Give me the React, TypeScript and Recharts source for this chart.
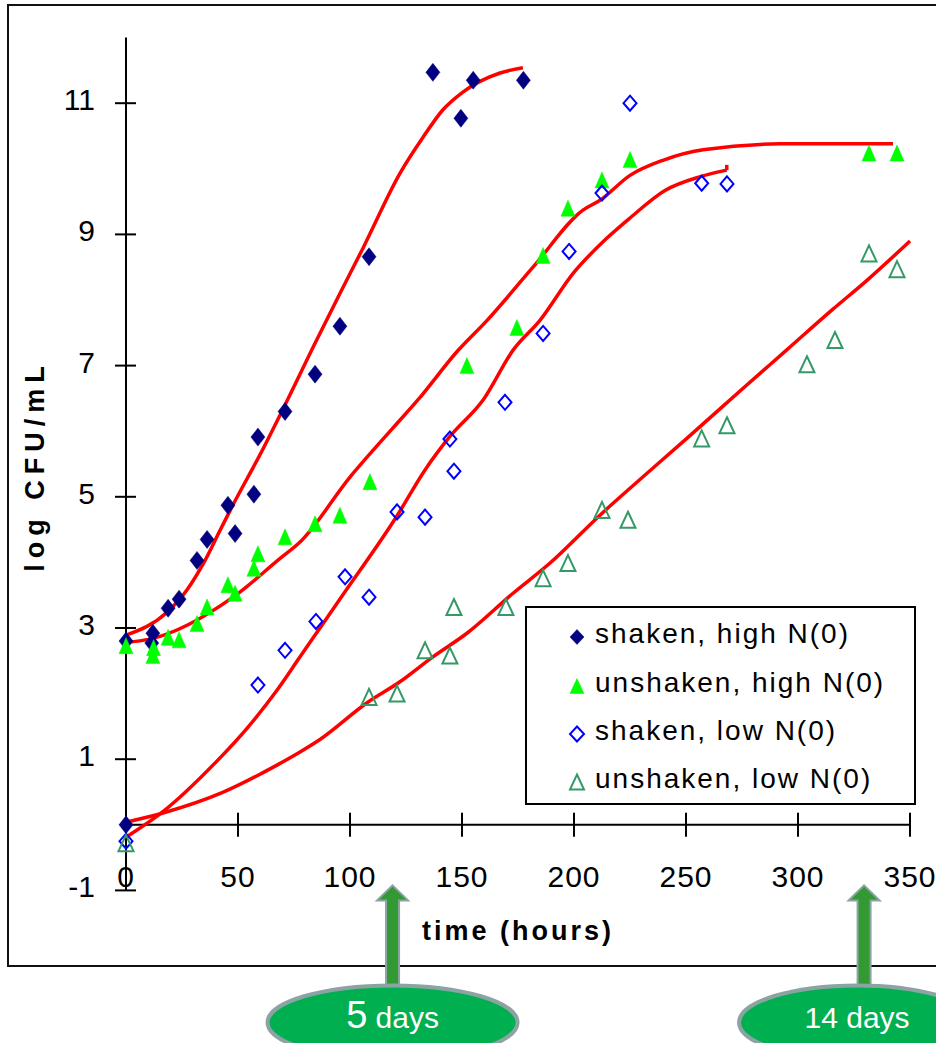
import React from 'react';
import {
  ComposedChart,
  Line,
  Scatter,
  XAxis,
  YAxis,
  ReferenceLine,
  ReferenceDot,
  Legend,
} from 'recharts';

// ---------------- data ----------------
const xTicks = [0, 50, 100, 150, 200, 250, 300, 350];
const yTicks = [-1, 1, 3, 5, 7, 9, 11];

const seriesNames = [
  'shaken, high N(0)',
  'unshaken, high N(0)',
  'shaken, low N(0)',
  'unshaken, low N(0)',
];

const shakenHigh = [
  { x: 0, y: 2.8 }, { x: 0, y: 0.0 }, { x: 12, y: 2.92 }, { x: 11.5, y: 2.77 },
  { x: 18.8, y: 3.3 }, { x: 23.7, y: 3.44 }, { x: 31.7, y: 4.03 }, { x: 36.2, y: 4.35 },
  { x: 45.5, y: 4.87 }, { x: 48.7, y: 4.44 }, { x: 57.1, y: 5.04 }, { x: 58.9, y: 5.91 },
  { x: 71, y: 6.3 }, { x: 84.4, y: 6.87 }, { x: 95.5, y: 7.6 }, { x: 108.5, y: 8.66 },
  { x: 137, y: 11.47 }, { x: 149.5, y: 10.77 }, { x: 155, y: 11.35 }, { x: 177.4, y: 11.35 },
];

const unshakenHigh = [
  { x: 0, y: 2.73 }, { x: 12, y: 2.58 }, { x: 12.3, y: 2.7 }, { x: 18.8, y: 2.86 },
  { x: 23.7, y: 2.82 }, { x: 31.7, y: 3.07 }, { x: 36.2, y: 3.32 }, { x: 45.5, y: 3.66 },
  { x: 48.7, y: 3.53 }, { x: 57.1, y: 3.91 }, { x: 58.9, y: 4.13 }, { x: 71, y: 4.39 },
  { x: 84.4, y: 4.59 }, { x: 95.5, y: 4.72 }, { x: 108.9, y: 5.23 }, { x: 152.2, y: 7.0 },
  { x: 174.5, y: 7.58 }, { x: 186.2, y: 8.68 }, { x: 197.3, y: 9.4 }, { x: 212.5, y: 9.83 },
  { x: 225, y: 10.14 }, { x: 331.7, y: 10.24 }, { x: 344.2, y: 10.24 },
];

const shakenLow = [
  { x: 0, y: -0.25 }, { x: 58.9, y: 2.13 }, { x: 71, y: 2.66 }, { x: 84.8, y: 3.1 },
  { x: 97.8, y: 3.78 }, { x: 108.5, y: 3.47 }, { x: 121, y: 4.77 }, { x: 133.5, y: 4.69 },
  { x: 144.6, y: 5.88 }, { x: 146.4, y: 5.39 }, { x: 169.2, y: 6.44 }, { x: 186.2, y: 7.49 },
  { x: 197.8, y: 8.74 }, { x: 212.5, y: 9.63 }, { x: 225, y: 11.0 }, { x: 257, y: 9.78 },
  { x: 268.3, y: 9.77 },
];

const unshakenLow = [
  { x: 0, y: -0.28 }, { x: 108.5, y: 1.95 }, { x: 121, y: 2.0 }, { x: 133.5, y: 2.66 },
  { x: 144.6, y: 2.58 }, { x: 146.4, y: 3.32 }, { x: 169.6, y: 3.32 }, { x: 186.2, y: 3.76 },
  { x: 197.3, y: 3.99 }, { x: 212.5, y: 4.8 }, { x: 224.1, y: 4.65 }, { x: 257, y: 5.89 },
  { x: 268.3, y: 6.09 }, { x: 304, y: 7.02 }, { x: 316.5, y: 7.39 }, { x: 331.7, y: 8.71 },
  { x: 344.2, y: 8.47 },
];

const fitShakenHigh = [
  { x: 0, y: 2.89 }, { x: 18.3, y: 3.24 }, { x: 27.2, y: 3.58 }, { x: 34.8, y: 4.0 },
  { x: 42, y: 4.49 }, { x: 47.8, y: 4.88 }, { x: 59.8, y: 5.64 }, { x: 71, y: 6.4 },
  { x: 83.5, y: 7.28 }, { x: 95.5, y: 8.1 }, { x: 105.8, y: 8.79 }, { x: 122.3, y: 9.93 },
  { x: 132.6, y: 10.48 }, { x: 141.5, y: 10.9 }, { x: 150.4, y: 11.17 }, { x: 167, y: 11.46 },
  { x: 177.2, y: 11.54 },
];

const fitUnshakenHigh = [
  { x: 0, y: 2.78 }, { x: 10.7, y: 2.83 }, { x: 47.8, y: 3.47 }, { x: 68.8, y: 4.06 },
  { x: 77.7, y: 4.31 }, { x: 100, y: 5.3 }, { x: 119.2, y: 6.05 }, { x: 130.4, y: 6.48 },
  { x: 148.2, y: 7.23 }, { x: 161.2, y: 7.69 }, { x: 181.7, y: 8.5 }, { x: 204, y: 9.37 },
  { x: 211.6, y: 9.52 }, { x: 225, y: 9.9 }, { x: 239.7, y: 10.13 }, { x: 257.6, y: 10.29 },
  { x: 292, y: 10.38 }, { x: 342.4, y: 10.38 },
];

const fitShakenLow = [
  { x: 0, y: -0.19 }, { x: 16.5, y: 0.2 }, { x: 39.7, y: 0.94 }, { x: 54.5, y: 1.49 },
  { x: 67.4, y: 2.05 }, { x: 77.7, y: 2.56 }, { x: 87, y: 3.02 }, { x: 96.3, y: 3.48 },
  { x: 120.8, y: 4.7 }, { x: 133.5, y: 5.41 }, { x: 144.6, y: 5.92 }, { x: 159.5, y: 6.48 },
  { x: 172.9, y: 7.24 }, { x: 184.8, y: 7.69 }, { x: 199.7, y: 8.41 }, { x: 214.6, y: 8.94 },
  { x: 225, y: 9.25 }, { x: 240.6, y: 9.67 }, { x: 256.3, y: 9.88 }, { x: 268.2, y: 9.98 },
];
const fitShakenLowEnd = [{ x: 268.2, y: 9.98 }, { x: 268.2, y: 10.06 }];

const fitUnshakenLow = [
  { x: 0, y: 0.04 }, { x: 16.5, y: 0.18 }, { x: 42.9, y: 0.49 }, { x: 67.4, y: 0.91 },
  { x: 77.7, y: 1.11 }, { x: 86.6, y: 1.3 }, { x: 107.6, y: 1.86 }, { x: 122.3, y: 2.18 },
  { x: 137, y: 2.56 }, { x: 152.2, y: 2.92 }, { x: 172.8, y: 3.53 }, { x: 189.3, y: 3.99 },
  { x: 211.6, y: 4.72 }, { x: 225, y: 5.13 }, { x: 250, y: 5.88 }, { x: 275, y: 6.64 },
  { x: 295, y: 7.24 }, { x: 315.6, y: 7.86 }, { x: 330.8, y: 8.3 }, { x: 350, y: 8.9 },
];

const annotationHours = [119, 329.5];
const annotationNumbers = ['5', '14'];
const annotationWord = ' days';

// ---------------- styling ----------------
const W = 936;
const H = 1043;
const FONT = '"Liberation Sans", Arial, Helvetica, sans-serif';
const RED = '#ff0000';
const NAVY = '#000080';
const GREEN = '#00ff00';
const BLUE = '#0000ff';
const SEA = '#339966';

type MarkerKind = 'diamondFilled' | 'triangleFilled' | 'diamondOpen' | 'triangleOpen';
const markerKinds: MarkerKind[] = ['diamondFilled', 'triangleFilled', 'diamondOpen', 'triangleOpen'];
const markerColors = [NAVY, GREEN, BLUE, SEA];

function Marker({ kind, cx, cy, color, w, h }: { kind: MarkerKind; cx: number; cy: number; color: string; w: number; h: number }) {
  if (cx == null || cy == null || isNaN(cx) || isNaN(cy)) return null;
  const hw = w / 2;
  const hh = h / 2;
  if (kind === 'diamondFilled' || kind === 'diamondOpen') {
    const d = `M${cx},${cy - hh} L${cx + hw},${cy} L${cx},${cy + hh} L${cx - hw},${cy} Z`;
    return kind === 'diamondFilled' ? (
      <path d={d} fill={color} stroke={color} strokeWidth={0.5} />
    ) : (
      <path d={d} fill="#fff" fillOpacity={0} stroke={color} strokeWidth={2} />
    );
  }
  const d = `M${cx},${cy - hh} L${cx + hw},${cy + hh} L${cx - hw},${cy + hh} Z`;
  return kind === 'triangleFilled' ? (
    <path d={d} fill={color} stroke={color} strokeWidth={0.5} />
  ) : (
    <path d={d} fill="none" stroke={color} strokeWidth={2} />
  );
}

const markerSizes: Record<MarkerKind, [number, number]> = {
  diamondFilled: [14, 18],
  triangleFilled: [14, 16],
  diamondOpen: [13, 15],
  triangleOpen: [15, 16],
};

function makeShape(i: number) {
  const kind = markerKinds[i];
  const [w, h] = markerSizes[kind];
  return (props: any) => <Marker kind={kind} cx={props.cx} cy={props.cy} color={markerColors[i]} w={w} h={h} />;
}

const YTick = (props: any) => {
  const { x, y, payload } = props;
  return (
    <g>
      <line x1={x - 11} x2={x + 10} y1={y} y2={y} stroke="#000" strokeWidth={2} />
      <text x={x - 31} y={y + 7} textAnchor="end" fontFamily={FONT} fontSize={30} fill="#000">
        {payload.value}
      </text>
    </g>
  );
};

const XTick = (props: any) => {
  const { x, y, payload } = props;
  return (
    <text x={x} y={y - 3} textAnchor="middle" fontFamily={FONT} fontSize={30} letterSpacing={1} fill="#000">
      {payload.value}
    </text>
  );
};

const XTickMark = (props: any) => {
  const { cx, cy } = props;
  if (cx == null || cy == null) return null;
  return <line x1={cx} x2={cx} y1={cy - 12} y2={cy + 12} stroke="#000" strokeWidth={2} />;
};

const annStyles = [
  { numSize: 38, wordSize: 30, dx: 0, rx: 125 },
  { numSize: 30, wordSize: 30, dx: -7, rx: 118 },
];

function makeAnnotation(i: number) {
  const st = annStyles[i];
  return (props: any) => {
    const { cx, cy } = props;
    if (cx == null || cy == null) return null;
    const tipY = cy - 5;
    const headBase = cy + 10;
    const ellTop = cy + 95;
    const ecx = cx + st.dx;
    const ecy = ellTop + 37;
    const d = `M${cx},${tipY} L${cx + 15.5},${headBase} L${cx + 6.5},${headBase} L${cx + 6.5},${ellTop + 4} L${cx - 6.5},${ellTop + 4} L${cx - 6.5},${headBase} L${cx - 15.5},${headBase} Z`;
    return (
      <g>
        <path d={d} fill="#339933" stroke="#8ca3a3" strokeWidth={2} />
        <ellipse cx={ecx} cy={ecy} rx={st.rx} ry={37} fill="#00b050" stroke="#8ca3a3" strokeWidth={4} />
        <text x={ecx} y={cy + 138} textAnchor="middle" fill="#fff" fontFamily={FONT}>
          <tspan fontSize={st.numSize}>{annotationNumbers[i]}</tspan>
          <tspan fontSize={st.wordSize}>{annotationWord}</tspan>
        </text>
      </g>
    );
  };
}

const LegendBox = () => {
  const rows = [37, 86, 134, 182];
  return (
    <svg width={391} height={199} style={{ display: 'block' }}>
      <rect x={1} y={1} width={389} height={197} fill="#fff" stroke="#000" strokeWidth={2} />
      {seriesNames.map((name, i) => {
        const kind = markerKinds[i];
        return (
          <g key={name}>
            <Marker kind={kind} cx={52} cy={rows[i] - 6} color={markerColors[i]} w={14} h={15} />
            <text x={70} y={rows[i]} fontFamily={FONT} fontSize={28} letterSpacing={2} fill="#000">
              {name}
            </text>
          </g>
        );
      })}
    </svg>
  );
};

const seriesData = [shakenHigh, unshakenHigh, shakenLow, unshakenLow];
const fitData = [fitShakenHigh, fitUnshakenHigh, fitShakenLow, fitUnshakenLow, fitShakenLowEnd];

export default function App() {
  return (
    <div style={{ position: 'absolute', left: 0, top: 0, width: W, height: H, overflow: 'hidden', background: '#fff' }}>
      <div
        style={{
          position: 'absolute',
          left: 7,
          top: 4,
          width: 960,
          height: 963,
          border: '2.5px solid #111',
          boxSizing: 'border-box',
        }}
      />
      <div style={{ position: 'absolute', left: 0, top: 0 }}>
        <ComposedChart
          width={W}
          height={H}
          margin={{ top: 37.6, right: 26, bottom: 122.6, left: 66 }}
        >
          <XAxis
            type="number"
            dataKey="x"
            domain={[0, 350]}
            ticks={xTicks}
            interval={0}
            axisLine={false}
            tickLine={false}
            tickSize={0}
            tickMargin={0}
            height={30}
            tick={<XTick />}
          />
          <YAxis
            type="number"
            dataKey="y"
            domain={[-1, 12]}
            ticks={yTicks}
            interval={0}
            width={60}
            axisLine={{ stroke: '#000', strokeWidth: 2 }}
            tickLine={false}
            tickSize={0}
            tickMargin={0}
            tick={<YTick />}
          />
          <ReferenceLine y={0} stroke="#000" strokeWidth={2} ifOverflow="visible" />
          {xTicks.slice(1).map((t) => (
            <ReferenceDot key={`xt${t}`} x={t} y={0} r={0} ifOverflow="visible" shape={XTickMark} />
          ))}
          {fitData.map((d, i) => (
            <Line
              key={`fit${i}`}
              data={d}
              dataKey="y"
              type={i === 4 ? 'linear' : 'monotone'}
              stroke={RED}
              strokeWidth={3.5}
              dot={false}
              activeDot={false}
              legendType="none"
              isAnimationActive={false}
            />
          ))}
          {seriesData.map((d, i) => (
            <Scatter
              key={`s${i}`}
              name={seriesNames[i]}
              data={d}
              dataKey="y"
              shape={makeShape(i)}
              isAnimationActive={false}
            />
          ))}
          {annotationHours.map((h, i) => (
            <ReferenceDot key={`ann${i}`} x={h} y={-1} r={0} ifOverflow="visible" shape={makeAnnotation(i)} />
          ))}
          <Legend
            layout="vertical"
            align="center"
            verticalAlign="middle"
            content={() => <LegendBox />}
            wrapperStyle={{ left: 525, top: 606, width: 391, height: 199 }}
          />
        </ComposedChart>
      </div>
      <svg width={W} height={H} style={{ position: 'absolute', left: 0, top: 0, pointerEvents: 'none' }}>
        <text
          x={44}
          y={466}
          transform="rotate(-90 44 466)"
          textAnchor="middle"
          fontFamily={FONT}
          fontWeight="bold"
          fontSize={27}
          letterSpacing={6}
          fill="#000"
        >
          log CFU/mL
        </text>
        <text
          x={518}
          y={940}
          textAnchor="middle"
          fontFamily={FONT}
          fontWeight="bold"
          fontSize={27}
          letterSpacing={3}
          fill="#000"
        >
          time (hours)
        </text>
      </svg>
    </div>
  );
}
